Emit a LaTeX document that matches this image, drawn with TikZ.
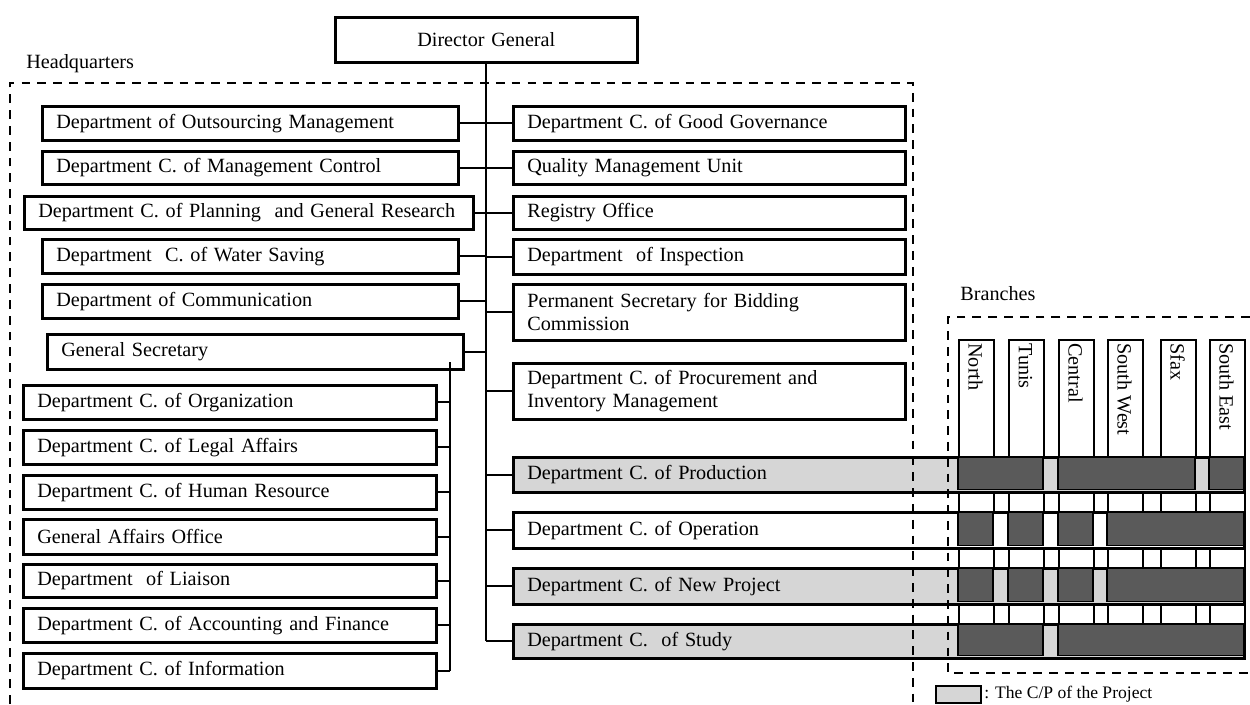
\documentclass[tikz,border=0pt]{standalone}
\usepackage{fontspec}
\setmainfont{Liberation Serif}
\definecolor{cpgray}{HTML}{D6D6D6}
\definecolor{darkcell}{HTML}{5A5A5A}
\begin{document}
\begin{tikzpicture}[x=0.02cm,y=-0.02cm,
  box/.style={draw=black, line width=1.5pt, fill=white, anchor=north west,
    inner xsep=0.28cm, inner ysep=0pt, align=left,
    font=\fontsize{11.5}{13}\selectfont},
  cpbox/.style={box, fill=cpgray},
  link/.style={draw=black, line width=1.1pt},
  dashline/.style={draw=black, line width=1.5pt, dash pattern=on 5pt off 4pt},
  colbox/.style={draw=black, line width=1.3pt, fill=white, anchor=north west,
    inner sep=0pt, minimum width=0.70cm, minimum height=6.36cm},
  collab/.style={rotate=-90, anchor=west, inner sep=0pt,
    font=\fontsize{11.5}{13}\selectfont},
  lab/.style={anchor=base west, inner sep=0pt, font=\fontsize{11.5}{13}\selectfont},
  dcell/.style={fill=darkcell, draw=black, line width=0.8pt}
]
\useasboundingbox (0,0) rectangle (1250,704);

% ---------- Director General ----------
\node[box, align=center, text width=5.48cm, minimum height=0.9cm] (dg) at (334,16) {Director General};

% ---------- branch columns (drawn first, rows go over them) ----------
\node[colbox] (c1) at (958,339) {};
\node[colbox] (c2) at (1008,339) {};
\node[colbox] (c3) at (1058,339) {};
\node[colbox] (c4) at (1107,339) {};
\node[colbox] (c5) at (1160,339) {};
\node[colbox] (c6) at (1209,339) {};
\node[collab] (l1) at (975.5,343) {North};
\node[collab] (l2) at (1025.5,343) {Tunis};
\node[collab] (l3) at (1075.5,343) {Central};
\node[collab] (l4) at (1124.5,343) {South West};
\node[collab] (l5) at (1177.5,343) {Sfax};
\node[collab] (l6) at (1226.5,343) {South East};

% ---------- left column ----------
\node[box, text width=7.76cm, minimum height=0.68cm] (outs) at (41,105) {Department of Outsourcing Management};
\node[box, text width=7.76cm, minimum height=0.66cm] (mctl) at (41,150) {Department C. of Management Control};
\node[box, text width=8.42cm, minimum height=0.66cm] (plan) at (23,195) {Department C. of Planning~ and General Research};
\node[box, text width=7.76cm, minimum height=0.68cm] (water) at (41,238) {Department~ C. of Water Saving};
\node[box, text width=7.76cm, minimum height=0.68cm] (comm) at (41,283) {Department of Communication};
\node[box, text width=7.76cm, minimum height=0.70cm] (gs) at (46,333) {General Secretary};
\node[box, text width=7.70cm, minimum height=0.68cm] (org) at (22,384) {Department C. of Organization};
\node[box, text width=7.70cm, minimum height=0.68cm] (legal) at (22,429) {Department C. of Legal Affairs};
\node[box, text width=7.70cm, minimum height=0.68cm] (hr) at (22,474) {Department C. of Human Resource};
\node[box, text width=7.70cm, minimum height=0.70cm] (gao) at (22,518) {General Affairs Office};
\node[box, text width=7.70cm, minimum height=0.66cm] (liai) at (22,563) {Department~ of Liaison};
\node[box, text width=7.70cm, minimum height=0.68cm] (acct) at (22,607) {Department C. of Accounting and Finance};
\node[box, text width=7.70cm, minimum height=0.70cm] (info) at (22,652) {Department C. of Information};

% ---------- right column ----------
\node[box, text width=7.28cm, minimum height=0.68cm] (gov) at (512,105) {Department C. of Good Governance};
\node[box, text width=7.28cm, minimum height=0.66cm] (qmu) at (512,150) {Quality Management Unit};
\node[box, text width=7.28cm, minimum height=0.66cm] (reg) at (512,195) {Registry Office};
\node[box, text width=7.28cm, minimum height=0.70cm] (insp) at (512,238) {Department~ of Inspection};
\node[box, text width=7.28cm, minimum height=1.12cm] (perm) at (512,283) {Permanent Secretary for Bidding\\Commission};
\node[box, text width=7.28cm, minimum height=1.12cm] (proc) at (512,362) {Department C. of Procurement and\\Inventory Management};
\node[cpbox, text width=14.06cm, minimum height=0.70cm] (prod) at (512,456) {Department C. of Production};
\node[box, text width=14.06cm, minimum height=0.72cm] (oper) at (512,511) {Department C. of Operation};
\node[cpbox, text width=14.06cm, minimum height=0.72cm] (newp) at (512,567) {Department C. of New Project};
\node[cpbox, text width=14.06cm, minimum height=0.68cm] (study) at (512,623) {Department C.~ of Study};

% ---------- dark cells in the branch grid ----------
\path[dcell] (958,457.5) rectangle (1043,489.5);
\path[dcell] (1058,457.5) rectangle (1195,489.5);
\path[dcell] (1209,457.5) rectangle (1244,489.5);

\path[dcell] (958,512.5) rectangle (993,545.5);
\path[dcell] (1008,512.5) rectangle (1043,545.5);
\path[dcell] (1058,512.5) rectangle (1093,545.5);
\path[dcell] (1107,512.5) rectangle (1244,545.5);

\path[dcell] (958,568.5) rectangle (993,601.5);
\path[dcell] (1008,568.5) rectangle (1043,601.5);
\path[dcell] (1058,568.5) rectangle (1093,601.5);
\path[dcell] (1107,568.5) rectangle (1244,601.5);

\path[dcell] (958,624.5) rectangle (1043,655.5);
\path[dcell] (1058,624.5) rectangle (1244,655.5);

% ---------- connectors ----------
\draw[link] (dg.south) -- (dg.south |- study.west);
\foreach \n in {outs,mctl,plan,water,comm,gs}{
  \draw[link] (\n.east) -- (\n.east -| dg.south);
}
\foreach \n in {gov,qmu,reg,insp,perm,proc,prod,oper,newp,study}{
  \draw[link] (\n.west) -- (\n.west -| dg.south);
}
\coordinate (gsb) at (450,362);
\draw[link] (gsb) -- (gsb |- info.east);
\foreach \n in {org,legal,hr,gao,liai,acct,info}{
  \draw[link] (\n.east) -- (\n.east -| gsb);
}

% ---------- dashed frames and labels ----------
\draw[dashline] (10,704) -- (10,83) -- (913,83) -- (913,704);
\draw[dashline] (1250,317) -- (948,317) -- (948,673) -- (1250,673);
\node[lab] (hql) at (26,68) {Headquarters};
\node[lab] (brl) at (960,300) {Branches};

% ---------- legend ----------
\node[draw=black, line width=1.3pt, fill=cpgray, anchor=north west, inner sep=0pt,
  minimum width=0.9cm, minimum height=0.34cm] (leg) at (935,685) {};
\node[anchor=west, inner sep=1pt, font=\fontsize{10}{12}\selectfont] (legt) at (leg.east) {: The C/P of the Project};
\end{tikzpicture}
\end{document}
